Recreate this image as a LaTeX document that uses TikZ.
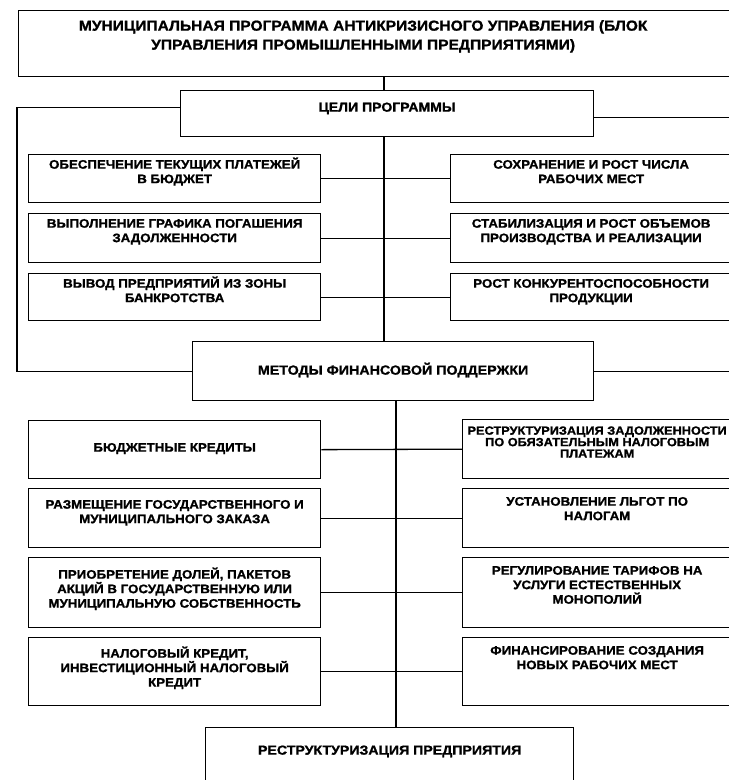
\documentclass[tikz,border=0pt]{standalone}
\usepackage{fontspec}
\setmainfont{Liberation Sans}[FakeStretch=1.08, BoldFeatures={FakeBold=1.2}]
\usepackage{tikz}

% text inside a box: height, width, first baseline, lines
\newcommand{\boxtxt}[4]{\parbox[c][#1][t]{#2}{\centering\rule{0pt}{#3}#4}}

\begin{document}
\begin{tikzpicture}[x=1pt, y=-1pt]
    \tikzset{box/.style = {draw, line width=1.3pt, anchor=north west, inner sep=0pt,
                           font=\bfseries\fontsize{12.3}{14.5}\selectfont}}
    \tikzset{small/.style = {font=\bfseries\fontsize{11.8}{11.5}\selectfont}}
    \tikzset{line/.style = {draw, line width=1.3pt, -}}

    \useasboundingbox (0,0) rectangle (729,780);
    \clip (0,0) rectangle (729,780);

    % boxes
    \node[box, font=\bfseries\fontsize{14.4}{19}\selectfont] (top) at (18,10)
        {\boxtxt{66pt}{689pt}{20pt}{МУНИЦИПАЛЬНАЯ ПРОГРАММА АНТИКРИЗИСНОГО УПРАВЛЕНИЯ (БЛОК\\ УПРАВЛЕНИЯ ПРОМЫШЛЕННЫМИ ПРЕДПРИЯТИЯМИ)}\hspace*{24pt}};
    \node[box, font=\bfseries\fontsize{13}{15}\selectfont] (goals) at (180,90) {\boxtxt{46pt}{413pt}{21pt}{ЦЕЛИ ПРОГРАММЫ}};

    \node[box] (gl1) at (28,154) {\boxtxt{48pt}{292pt}{14pt}{ОБЕСПЕЧЕНИЕ ТЕКУЩИХ ПЛАТЕЖЕЙ\\ В БЮДЖЕТ}};
    \node[box] (gl2) at (28,213) {\boxtxt{49pt}{292pt}{14pt}{ВЫПОЛНЕНИЕ ГРАФИКА ПОГАШЕНИЯ\\ ЗАДОЛЖЕННОСТИ}};
    \node[box] (gl3) at (28,273) {\boxtxt{47pt}{292pt}{14pt}{ВЫВОД ПРЕДПРИЯТИЙ ИЗ ЗОНЫ\\ БАНКРОТСТВА}};
    \node[box] (gr1) at (450,154) {\boxtxt{48pt}{281pt}{14pt}{СОХРАНЕНИЕ И РОСТ ЧИСЛА\\ РАБОЧИХ МЕСТ}};
    \node[box] (gr2) at (450,213) {\boxtxt{49pt}{281pt}{14pt}{СТАБИЛИЗАЦИЯ И РОСТ ОБЪЕМОВ\\ ПРОИЗВОДСТВА И РЕАЛИЗАЦИИ}};
    \node[box] (gr3) at (450,273) {\boxtxt{47pt}{281pt}{14pt}{РОСТ КОНКУРЕНТОСПОСОБНОСТИ\\ ПРОДУКЦИИ}};

    \node[box, font=\bfseries\fontsize{13.2}{15}\selectfont] (methods) at (192,341) {\boxtxt{59pt}{401pt}{33pt}{МЕТОДЫ ФИНАНСОВОЙ ПОДДЕРЖКИ}};

    \node[box] (ml1) at (28,420) {\boxtxt{58pt}{292pt}{31pt}{БЮДЖЕТНЫЕ КРЕДИТЫ}};
    \node[box] (ml2) at (28,488) {\boxtxt{59pt}{292pt}{20pt}{РАЗМЕЩЕНИЕ ГОСУДАРСТВЕННОГО И\\ МУНИЦИПАЛЬНОГО ЗАКАЗА}};
    \node[box] (ml3) at (28,557) {\boxtxt{70pt}{292pt}{21pt}{ПРИОБРЕТЕНИЕ ДОЛЕЙ, ПАКЕТОВ\\ АКЦИЙ В ГОСУДАРСТВЕННУЮ ИЛИ\\ МУНИЦИПАЛЬНУЮ СОБСТВЕННОСТЬ}};
    \node[box] (ml4) at (28,637) {\boxtxt{68pt}{292pt}{20pt}{НАЛОГОВЫЙ КРЕДИТ,\\ ИНВЕСТИЦИОННЫЙ НАЛОГОВЫЙ\\ КРЕДИТ}};
    \node[box, small] (mr1) at (462,419) {\boxtxt{59pt}{269pt}{15pt}{РЕСТРУКТУРИЗАЦИЯ ЗАДОЛЖЕННОСТИ\\ ПО ОБЯЗАТЕЛЬНЫМ НАЛОГОВЫМ\\ ПЛАТЕЖАМ}};
    \node[box] (mr2) at (462,488) {\boxtxt{59pt}{269pt}{17pt}{УСТАНОВЛЕНИЕ ЛЬГОТ ПО\\ НАЛОГАМ}};
    \node[box] (mr3) at (462,557) {\boxtxt{70pt}{269pt}{17pt}{РЕГУЛИРОВАНИЕ ТАРИФОВ НА\\ УСЛУГИ ЕСТЕСТВЕННЫХ\\ МОНОПОЛИЙ}};
    \node[box] (mr4) at (462,637) {\boxtxt{68pt}{269pt}{17pt}{ФИНАНСИРОВАНИЕ СОЗДАНИЯ\\ НОВЫХ РАБОЧИХ МЕСТ}};

    \node[box, font=\bfseries\fontsize{13.1}{15}\selectfont] (bottom) at (205,727) {\boxtxt{80pt}{368pt}{27pt}{РЕСТРУКТУРИЗАЦИЯ ПРЕДПРИЯТИЯ}};

    % helper coordinates
    \coordinate (ta) at (384,0);
    \coordinate (tb) at (396,0);
    \coordinate (lbend) at (17,0);
    \coordinate (redge) at (729,0);
    \coordinate (gleft) at ([yshift=6pt]goals.west);
    \coordinate (gright) at ([yshift=-4pt]goals.east);

    % lines
    \draw[line] (ta |- top.south) -- (ta |- goals.north);
    \draw[line] (ta |- goals.south) -- (ta |- methods.north);
    \draw[line] (tb |- methods.south) -- (tb |- bottom.north);
    \draw[line] (gleft) -| (lbend |- methods.west) -- (methods.west);
    \draw[line] (gright) -- (gright -| redge);
    \draw[line] (methods.east) -- (methods.east -| redge);

    \draw[line] (gl1.east) -- (gr1.west);
    \draw[line] (gl2.east) -- (gr2.west);
    \draw[line] (gl3.east) -- (gr3.west);
    \draw[line] (ml1.east) -- (mr1.west);
    \draw[line] (ml2.east) -- (mr2.west);
    \draw[line] (ml3.east) -- (mr3.west);
    \draw[line] (ml4.east) -- (mr4.west);
\end{tikzpicture}
\end{document}
